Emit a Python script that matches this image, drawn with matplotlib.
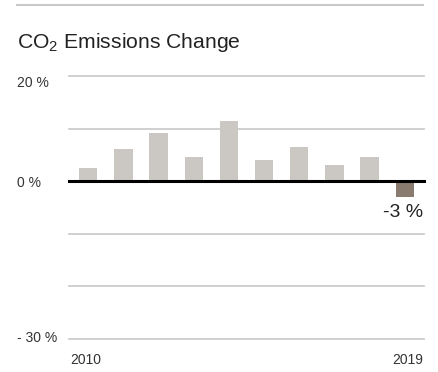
import matplotlib
matplotlib.use("Agg")
import matplotlib.pyplot as plt
from matplotlib.lines import Line2D

plt.rcParams["font.family"] = ["Liberation Sans", "DejaVu Sans"]
plt.rcParams["mathtext.fontset"] = "custom"
plt.rcParams["mathtext.rm"] = "Liberation Sans"
plt.rcParams["mathtext.it"] = "Liberation Sans"

# Data.
years = [2010, 2011, 2012, 2013, 2014, 2015, 2016, 2017, 2018, 2019]
changes = [2.6, 6.1, 9.1, 4.6, 11.5, 4.0, 6.5, 3.1, 4.6, -3.0]
grid_values = [20, 10, 0, -10, -20, -30]
grid_labels = {20: "20 %", 0: "0 %", -30: "- 30 %"}

W, H = 439, 372
fig = plt.figure(figsize=(W / 100, H / 100), dpi=100)
ax = fig.add_axes([69 / W, 1 - 339 / H, 355 / W, 263 / H])

light = "#cbc8c3"
dark = "#8a7b70"
colors = [dark if v < 0 else light for v in changes]
pos = list(range(len(years)))
ax.bar(pos, changes, width=0.52, color=colors, zorder=2)

for g in grid_values:
    if g == 0:
        ax.axhline(g, color="black", lw=2.2, zorder=3, clip_on=False)
    else:
        ax.axhline(g, color="#c8c8c8", lw=1.2, zorder=1, clip_on=False)

ax.set_xlim(-0.55, len(years) - 0.45)
ax.set_ylim(min(grid_values), max(grid_values))
ax.axis("off")

# Y labels, placed at the left edge of the figure.
label_offsets = {20: 7, 0: 2, -30: -1}
for g, txt in grid_labels.items():
    y_disp = ax.transData.transform((0, g))[1] - label_offsets[g]
    fig.text(17 / W, y_disp / H, txt, ha="left", va="center",
             fontsize=10, color="#333333")

# Year labels under the axis.
fig.text(70 / W, 1 - 360 / H, str(years[0]), ha="left", va="center",
         fontsize=10, color="#333333")
fig.text(423 / W, 1 - 360 / H, str(years[-1]), ha="right", va="center",
         fontsize=10, color="#333333")

# Label for the last value.
ax.annotate(f"{changes[-1]:.0f} %", xy=(pos[-1], changes[-1]), xytext=(423 / W, 1 - 212 / H),
            textcoords="figure fraction", ha="right", va="center",
            fontsize=14, color="#222222")

# Title and top rule.
fig.text(17 / W, 1 - 42 / H, "CO$_2$ Emissions Change", ha="left", va="center",
         fontsize=15.2, color="#222222")
fig.add_artist(Line2D([17 / W, 423 / W], [1 - 4.5 / H, 1 - 4.5 / H],
                      color="#c8c8c8", lw=1.5))

fig.savefig("out.png", dpi=100)
